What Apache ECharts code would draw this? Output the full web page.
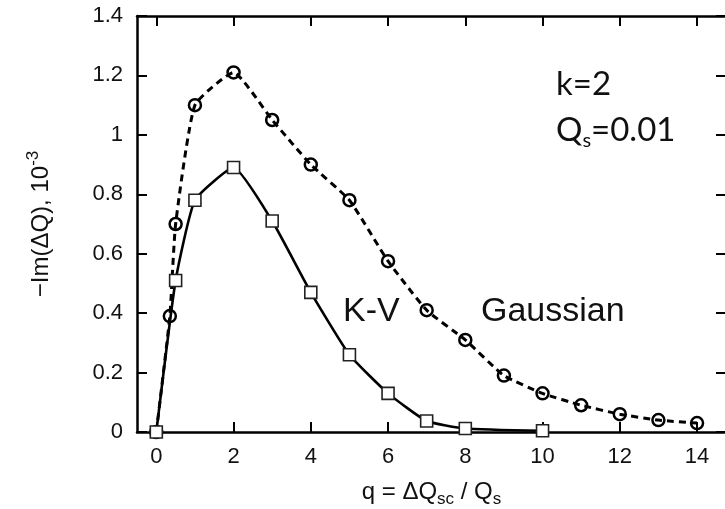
<!DOCTYPE html>
<html>
<head>
<meta charset="utf-8">
<script src="https://cdn.jsdelivr.net/npm/echarts@6/dist/echarts.min.js"></script>
<style>
  html, body { margin: 0; padding: 0; background: #fff; }
  #chart { width: 725px; height: 509px; }
</style>
</head>
<body>
<div id="chart"></div>
<script>
// Gaussian (dashed, circles)
const gaussQ = [0, 0.35, 0.5, 1, 2, 3, 4, 5, 6, 7, 8, 9, 10, 11, 12, 13, 14]
const gaussIm = [0, 0.39, 0.70, 1.10, 1.21, 1.05, 0.90, 0.78, 0.575, 0.41, 0.31, 0.19, 0.13, 0.09, 0.06, 0.04, 0.03]
// K-V (solid, squares)
const kvQ = [0, 0.5, 1, 2, 3, 4, 5, 6, 7, 8, 10]
const kvIm = [0, 0.51, 0.78, 0.89, 0.71, 0.47, 0.26, 0.13, 0.037, 0.012, 0.004]
// tick values
const xTicks = [0, 2, 4, 6, 8, 10, 12, 14]

const font = 'Liberation Sans'
const zip = (xs, ys) => xs.map((x, i) => [x, ys[i]])

const chart = echarts.init(document.getElementById('chart'))

const axisLine = { show: true, onZero: false, lineStyle: { color: '#000', width: 2.5 } }
const tickStyle = { show: true, inside: true, length: 10, lineStyle: { color: '#000', width: 2 } }

const option = {
  animation: false,
  grid: { left: 137, top: 16, right: -1, bottom: 77, outerBoundsMode: 'none' },
  xAxis: [
    {
      type: 'value',
      min: -0.5,
      max: 14.75,
      position: 'bottom',
      axisLine,
      axisTick: { ...tickStyle, customValues: xTicks },
      axisLabel: { customValues: xTicks, color: '#111', fontFamily: font, fontSize: 22, margin: 14 },
      splitLine: { show: false },
      name: '{n|q = ΔQ}{sub|sc}{n| / Q}{sub|s}',
      nameLocation: 'middle',
      nameGap: 44,
      nameTextStyle: {
        rich: {
          n: { fontFamily: font, fontSize: 24, color: '#111', lineHeight: 32, verticalAlign: 'middle' },
          sub: { fontFamily: font, fontSize: 17, color: '#111', lineHeight: 32, verticalAlign: 'bottom' },
        },
      },
    },
    {
      type: 'value',
      min: -0.5,
      max: 14.75,
      position: 'top',
      axisLine,
      axisTick: { ...tickStyle, customValues: xTicks },
      axisLabel: { show: false },
      splitLine: { show: false },
    },
  ],
  yAxis: [
    {
      type: 'value',
      min: 0,
      max: 1.4,
      interval: 0.2,
      position: 'left',
      axisLine,
      axisTick: tickStyle,
      axisLabel: { color: '#111', fontFamily: font, fontSize: 22, margin: 14 },
      splitLine: { show: false },
      name: '{n|−Im(ΔQ), 10}{sup|-3}',
      nameLocation: 'middle',
      nameGap: 80,
      nameRotate: 90,
      nameTextStyle: {
        rich: {
          n: { fontFamily: font, fontSize: 24, color: '#111', lineHeight: 32, verticalAlign: 'middle' },
          sup: { fontFamily: font, fontSize: 17, color: '#111', lineHeight: 32, verticalAlign: 'top' },
        },
      },
    },
    {
      type: 'value',
      min: 0,
      max: 1.4,
      interval: 0.2,
      position: 'right',
      axisLine,
      axisTick: tickStyle,
      axisLabel: { show: false },
      splitLine: { show: false },
    },
  ],
  series: [
    {
      name: 'Gaussian',
      type: 'line',
      data: zip(gaussQ, gaussIm),
      smooth: 0.15,
      symbol: 'circle',
      symbolSize: 12,
      lineStyle: { color: '#000', width: 3, type: [7, 5] },
      itemStyle: { color: 'rgba(255,255,255,0)', borderColor: '#000', borderWidth: 2.5 },
      z: 3,
    },
    {
      name: 'K-V',
      type: 'line',
      data: zip(kvQ, kvIm),
      smooth: 0.15,
      symbol: 'rect',
      symbolSize: 12,
      lineStyle: { color: '#000', width: 2.6 },
      itemStyle: { color: '#fff', borderColor: '#222', borderWidth: 1.6 },
      z: 4,
    },
  ],
  graphic: [
    {
      type: 'text', left: 556, top: 68,
      style: { text: 'k=2', fontFamily: 'Lato', fontSize: 33, fill: '#111' },
    },
    {
      type: 'text', left: 556, top: 114,
      style: {
        text: '{n|Q}{sub|s}{n|=0.01}',
        rich: {
          n: { fontFamily: 'Lato', fontSize: 33, fill: '#111', lineHeight: 40, verticalAlign: 'middle' },
          sub: { fontFamily: 'Lato', fontSize: 20, fill: '#111', lineHeight: 40, verticalAlign: 'bottom' },
        },
      },
    },
    {
      type: 'text', left: 343, top: 295,
      style: { text: 'K-V', fontFamily: font, fontSize: 34, fill: '#111' },
    },
    {
      type: 'text', left: 481, top: 295,
      style: { text: 'Gaussian', fontFamily: font, fontSize: 34, fill: '#111' },
    },
  ],
}

chart.setOption(option)
</script>
</body>
</html>
